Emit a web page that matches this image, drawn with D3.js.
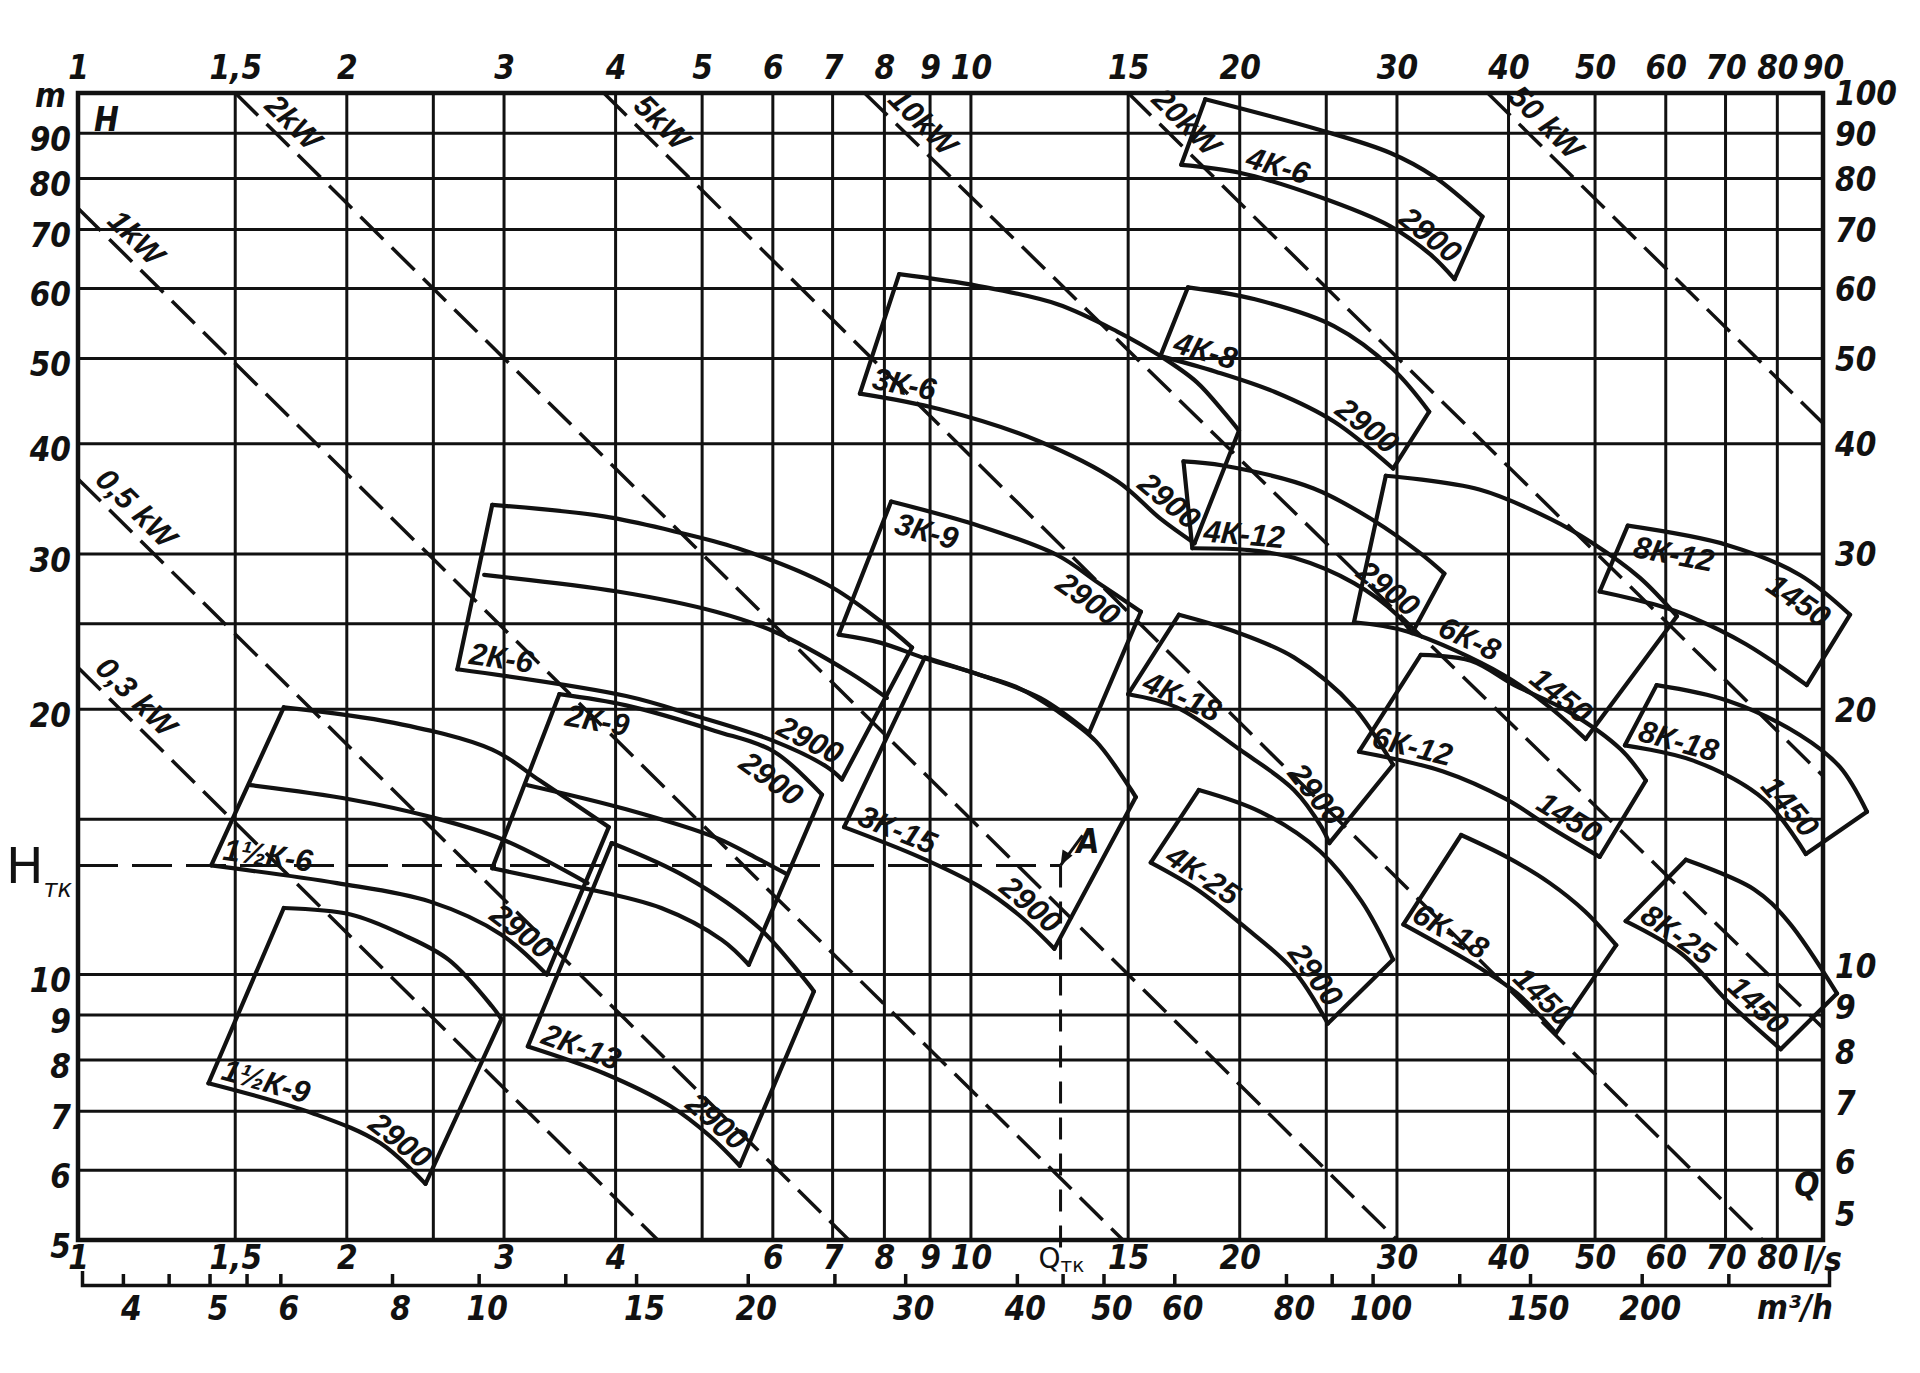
<!DOCTYPE html>
<html><head><meta charset="utf-8">
<script src="https://cdn.jsdelivr.net/npm/d3@7"></script>
<style>
body{margin:0;background:#fff;}
svg{display:block;}
.ax{font-family:"Liberation Sans Narrow","DejaVu Sans Condensed","Liberation Sans",sans-serif;font-style:italic;font-weight:bold;font-size:33px;fill:#111;}
.lbl{font-family:"Liberation Sans","DejaVu Sans",sans-serif;font-style:italic;font-weight:bold;font-size:31px;fill:#111;}
.plain{font-family:"DejaVu Sans","Liberation Sans",sans-serif;fill:#111;}
</style></head><body>
<svg id="c" width="1920" height="1373"></svg>
<script>
// ---------- data ----------
const qGrid = [1,1.5,2,2.5,3,4,5,6,7,8,9,10,15,20,25,30,40,50,60,70,80,90];
const hGrid = [5,6,7,8,9,10,15,20,25,30,40,50,60,70,80,90,100];
const topQLabels = [1,1.5,2,3,4,5,6,7,8,9,10,15,20,30,40,50,60,70,80,90];
const bottomQLabels = [1,1.5,2,3,4,6,7,8,9,10,15,20,30,40,50,60,70,80];
const leftHLabels = [90,80,70,60,50,40,30,20,10,9,8,7,6,5];
const rightHLabels = [100,90,80,70,60,50,40,30,20,10,9,8,7,6,5];
const m3hTicks = [4,4.5,5,5.5,6,8,10,12.5,15,20,25,30,40,45,50,60,80,90,100,125,150,200,250];
const m3hLabels = [4,5,6,8,10,15,20,30,40,50,60,80,100,150,200];

const powerLabels = ["0,3 kW","0,5 kW","1kW","2kW","5kW","10kW","20kW","50 kW"];
const powerFrom = [[1,22.3],[1,36.5],[1,74],[1.5,100],[3.88,100],[7.6,100],[15.0,100],[37.9,100]];
const powerTo   = [[4.46,5],[7.3,5],[14.8,5],[30,5],[77,5],[90,8.7],[90,16.8],[90,42.2]];

const pumpNames  = ["1½К-6","1½К-9","2К-6","2К-9","2К-13","3К-6","3К-9","3К-15","4К-6","4К-8","4К-12","4К-18","4К-25","6К-8","6К-12","6К-18","8К-12","8К-18","8К-25"];
const pumpSpeeds = ["2900","2900","2900","2900","2900","2900","2900","2900","2900","2900","2900","2900","2900","1450","1450","1450","1450","1450","1450"];
const pumpTop = [
 [[1.70,20.1],[2.26,19.3],[2.91,18.0],[3.29,16.6],[3.93,14.7]],
 [[1.70,11.9],[2.02,11.7],[2.31,11.1],[2.60,10.4],[2.91,9.2],[2.98,8.9]],
 [[2.91,34.1],[3.88,33.1],[4.61,31.9],[5.48,30.45],[6.90,27.7],[7.91,25.2],[8.59,23.5]],
 [[3.46,20.8],[4.11,20.2],[5.17,18.9],[6.02,17.9],[6.81,16.0]],
 [[3.96,14.1],[4.80,12.9],[5.79,11.3],[6.67,9.57]],
 [[8.31,62.3],[10.2,60.4],[12.5,57.6],[14.6,53.6],[16.3,50.3],[17.9,47.0],[19.25,43.3],[19.96,41.4]],
 [[8.14,34.4],[10.2,32.3],[12.5,29.9],[13.9,27.8],[15.5,25.8]],
 [[8.88,22.9],[10.2,21.9],[11.3,21.15],[12.5,19.9],[13.8,18.4],[15.0,16.4],[15.3,15.9]],
 [[18.3,98.4],[24.6,90.8],[29.5,85.5],[33.0,80.4],[37.4,72.4]],
 [[17.5,60.2],[20.8,58.35],[25.5,54.4],[29.7,48.6],[32.6,43.5]],
 [[17.3,38.2],[19.15,37.8],[24.2,35.6],[28.3,32.7],[31.8,30.1],[33.9,28.5]],
 [[17.1,25.6],[19.75,24.5],[23.0,22.9],[26.85,20.1],[29.7,17.3]],
 [[18.0,16.2],[21.1,15.3],[24.6,13.8],[27.4,12.1],[29.7,10.4]],
 [[29.15,36.8],[37.1,35.5],[44.5,32.9],[49.7,30.85],[56.1,28.2],[61.75,25.5]],
 [[31.9,23.05],[36.3,22.7],[40.6,21.3],[46.6,19.9],[53.45,18.0],[57.0,16.6]],
 [[35.4,14.4],[39.8,13.6],[44.5,12.7],[48.7,11.8],[52.8,10.8]],
 [[54.4,32.3],[70.4,30.7],[84.8,28.4],[96.5,25.6]],
 [[58.6,21.3],[70.4,20.45],[84.8,18.7],[94.0,17.2],[100.8,15.3]],
 [[63.2,13.5],[75.3,12.5],[82.2,11.5],[93.3,9.52]]
];
const pumpMid = [
 [[1.56,16.4],[2.02,15.8],[2.48,15.1],[2.98,14.25],[3.72,12.7]],
 null,
 [[2.85,28.4],[4.02,27.2],[5.18,25.8],[6.02,24.5],[7.32,22.0],[8.05,20.6]],
 [[3.19,16.4],[4.11,15.4],[5.18,14.3],[5.80,13.5],[6.22,13.0]],
 null,null,null,null,null,null,null,null,null,null,null,null,null,null,null
];
const pumpBottom = [
 [[1.41,13.3],[1.95,12.7],[2.48,12.1],[2.98,11.1],[3.35,10.0]],
 [[1.40,7.53],[1.84,6.95],[2.18,6.44],[2.45,5.79]],
 [[2.66,22.2],[4.11,20.7],[4.88,19.7],[6.02,18.4],[6.90,17.2],[7.17,16.65]],
 [[2.91,13.2],[3.60,12.6],[4.50,11.9],[5.26,10.95],[5.64,10.26]],
 [[3.19,8.29],[3.88,7.73],[4.61,7.09],[5.10,6.56],[5.51,6.07]],
 [[7.51,45.6],[9.21,43.8],[11.9,40.3],[14.6,36.25],[16.3,32.9],[17.8,30.85]],
 [[7.11,24.3],[7.91,23.8],[8.93,22.8],[10.2,21.9],[11.95,20.6],[13.56,18.8]],
 [[7.21,14.7],[8.75,13.6],[10.2,12.6],[11.3,11.7],[12.4,10.7]],
 [[17.2,82.9],[20.0,81.2],[24.5,76.3],[29.5,70.6],[32.7,65.6],[34.8,61.5]],
 [[16.3,50.3],[18.8,48.3],[21.9,45.8],[25.5,42.4],[29.7,37.5]],
 [[17.7,30.45],[20.5,30.3],[23.0,29.7],[26.85,27.8],[30.0,25.6],[31.2,24.4]],
 [[15.0,20.8],[17.0,20.1],[20.0,18.0],[23.0,16.2],[24.7,14.7],[25.2,14.1]],
 [[15.9,13.4],[17.9,12.5],[20.1,11.4],[23.0,10.1],[25.1,8.8]],
 [[26.85,25.1],[30.8,24.5],[39.4,21.9],[44.5,20.1],[48.8,18.5]],
 [[27.2,17.9],[33.8,17.0],[39.8,15.8],[44.5,14.7],[50.6,13.6]],
 [[30.5,11.4],[37.0,10.2],[40.9,9.52],[45.2,8.58]],
 [[50.6,27.2],[58.6,26.25],[64.3,25.4],[73.8,23.7],[86.3,21.3]],
 [[54.0,18.2],[64.3,17.5],[77.3,15.8],[86.1,13.7]],
 [[54.1,11.5],[62.5,10.56],[70.8,9.27],[80.7,8.23]]
];
const pointA = [12.6, 13.3];   // Q_тк, H_тк

// ---------- layout (not data) ----------
const labelsUnderTop = new Set(["2К-9","3К-9","8К-12"]);
const nameStart = {"4К-6": 62, "6К-8": 82, "6К-18": 4};
const speedEnd = {"6К-18": 0};
const labelSize = {"6К-18": 28};

// ---------- drawing ----------
const W = 1920, H = 1373;
const svg = d3.select('#c');
svg.append('rect').attr('width', W).attr('height', H).attr('fill', '#fff');
const ink = '#111';
const x = d3.scaleLog().domain([1, 90]).range([78, 1823]);
const y = d3.scaleLog().domain([5, 100]).range([1240, 93]);
const fmt = d => String(d).replace('.', ',');

// grid
const grid = svg.append('g').attr('stroke', ink).attr('stroke-width', 3);
qGrid.forEach(q => grid.append('line').attr('x1', x(q)).attr('x2', x(q)).attr('y1', y(100)).attr('y2', y(5)));
hGrid.forEach(h => grid.append('line').attr('x1', x(1)).attr('x2', x(90)).attr('y1', y(h)).attr('y2', y(h)));
svg.append('rect').attr('x', x(1)).attr('y', y(100)).attr('width', x(90) - x(1)).attr('height', y(5) - y(100))
  .attr('fill', 'none').attr('stroke', ink).attr('stroke-width', 4.5);

function styleAxis(g) {
  g.attr('font-family', null).attr('font-size', null);
  g.select('.domain').remove();
  g.selectAll('text').attr('class', 'ax').attr('fill', null);
}
// top Q labels
svg.append('g').attr('transform', `translate(0,${y(100)})`)
  .call(d3.axisTop(x).tickValues(topQLabels).tickFormat(fmt).tickSize(0).tickPadding(14)).call(styleAxis);
// left H labels
svg.append('g').attr('transform', `translate(${x(1) - 4},0)`)
  .call(d3.axisLeft(y).tickValues(leftHLabels).tickFormat(fmt).tickSize(0).tickPadding(3)).call(styleAxis)
  .selectAll('text').attr('dy', '0.52em');
svg.append('text').attr('class', 'ax').attr('font-size', 28).attr('x', 66).attr('y', y(100) + 14)
  .attr('text-anchor', 'end').text('m');
// right H labels
svg.append('g').attr('transform', `translate(${x(90) + 8},0)`)
  .call(d3.axisRight(y).tickValues(rightHLabels).tickFormat(fmt).tickSize(0).tickPadding(4)).call(styleAxis)
  .selectAll('text').attr('dy', d => d === 5 ? '-0.45em' : (d <= 10 ? '0.1em' : '0.36em'));
// bottom l/s labels
svg.append('g').attr('transform', `translate(0,${y(5)})`)
  .call(d3.axisBottom(x).tickValues(bottomQLabels).tickFormat(fmt).tickSize(0).tickPadding(6)).call(styleAxis);
svg.append('text').attr('class', 'ax').attr('x', x(80) + 26).attr('y', y(5) + 31).text('l/s');

// m3/h scale
const xm = d3.scaleLog().domain([3.6, 324]).range([x(1) + 4, x(90) + 6]);
const yAxM = 1285;
const gm = svg.append('g').attr('transform', `translate(0,${yAxM})`)
  .call(d3.axisTop(xm).tickValues(m3hTicks).tickFormat('').tickSize(11).tickSizeOuter(14));
gm.attr('font-family', null).attr('font-size', null);
gm.selectAll('path,line').attr('stroke', ink).attr('stroke-width', 3.5);
svg.append('g').attr('transform', `translate(8,${yAxM})`)
  .call(d3.axisBottom(xm).tickValues(m3hLabels).tickFormat(fmt).tickSize(0).tickPadding(12)).call(styleAxis);
svg.append('text').attr('class', 'ax').attr('x', x(90) + 10).attr('y', yAxM + 34).attr('text-anchor', 'end')
  .text('m³/h');

// inner letters
svg.append('text').attr('class', 'ax').attr('x', x(1) + 16).attr('y', y(100) + 38).attr('font-size', 30).text('H');
svg.append('text').attr('class', 'ax').attr('x', x(80) + 17).attr('y', y(5) - 44).attr('font-size', 28)
  .attr('font-weight', 'normal').text('Q');

// power lines (dashed)
const gp = svg.append('g');
powerLabels.forEach((lab, i) => {
  const p0 = [x(powerFrom[i][0]), y(powerFrom[i][1])];
  const p1 = [x(powerTo[i][0]), y(powerTo[i][1])];
  gp.append('line').attr('x1', p0[0]).attr('y1', p0[1]).attr('x2', p1[0]).attr('y2', p1[1])
    .attr('stroke', ink).attr('stroke-width', 3.5).attr('stroke-dasharray', '32,12');
  const dx = p1[0] - p0[0], dy = p1[1] - p0[1], len = Math.hypot(dx, dy);
  const ang = Math.atan2(dy, dx) * 180 / Math.PI;
  const s = 62;
  const cx = p0[0] + dx / len * s, cy = p0[1] + dy / len * s;
  gp.append('text').attr('class', 'lbl').attr('font-size', 30)
    .attr('transform', `translate(${cx},${cy}) rotate(${ang})`)
    .attr('x', 0).attr('y', -20).attr('text-anchor', 'middle').attr('dominant-baseline', 'central').text(lab);
});

// pump fields
const curve = d3.line().x(d => x(d[0])).y(d => y(d[1])).curve(d3.curveCatmullRom.alpha(0.5));
const straight = d3.line().x(d => x(d[0])).y(d => y(d[1]));
const gf = svg.append('g').attr('fill', 'none').attr('stroke', ink).attr('stroke-width', 4.2)
  .attr('stroke-linejoin', 'round').attr('stroke-linecap', 'round');
const gl = svg.append('g');
pumpNames.forEach((name, i) => {
  const top = pumpTop[i], bot = pumpBottom[i], mid = pumpMid[i];
  const tp = gf.append('path').attr('d', curve(top));
  if (mid) gf.append('path').attr('d', curve(mid));
  const bp = gf.append('path').attr('d', curve(bot));
  gf.append('path').attr('d', straight([top[0], bot[0]]));
  gf.append('path').attr('d', straight([top[top.length - 1], bot[bot.length - 1]]));
  const under = labelsUnderTop.has(name);
  const node = (under ? tp : bp).node(), L = node.getTotalLength();
  const dyText = under ? 30 : -7;
  const fs = labelSize[name] || 31;
  // name label near the left end
  const s0 = nameStart[name] !== undefined ? nameStart[name] : 10;
  const t1 = gl.append('text').attr('class', 'lbl').attr('font-size', fs).text(name);
  const w1 = t1.node().getComputedTextLength();
  const a0 = node.getPointAtLength(s0), a1 = node.getPointAtLength(Math.min(L, s0 + w1));
  const ang1 = Math.atan2(a1.y - a0.y, a1.x - a0.x) * 180 / Math.PI;
  t1.attr('transform', `translate(${a0.x},${a0.y}) rotate(${ang1})`).attr('x', 0).attr('y', dyText);
  // speed label near the right end
  const t2 = gl.append('text').attr('class', 'lbl').attr('font-size', fs).attr('text-anchor', 'end').text(pumpSpeeds[i]);
  const w2 = t2.node().getComputedTextLength();
  const e = speedEnd[name] !== undefined ? speedEnd[name] : (under ? 16 : 12);
  const b1 = node.getPointAtLength(Math.max(0, L - e)), b0 = node.getPointAtLength(Math.max(0, L - e - w2));
  const ang2 = Math.atan2(b1.y - b0.y, b1.x - b0.x) * 180 / Math.PI;
  t2.attr('transform', `translate(${b1.x},${b1.y}) rotate(${ang2})`).attr('x', 0).attr('y', dyText);
});

// operating point A with H_тк / Q_тк
const ax = x(pointA[0]), ay = y(pointA[1]);
svg.append('line').attr('x1', x(1)).attr('x2', ax).attr('y1', ay).attr('y2', ay)
  .attr('stroke', ink).attr('stroke-width', 3).attr('stroke-dasharray', '40,14');
svg.append('line').attr('x1', ax).attr('x2', ax).attr('y1', ay).attr('y2', y(5) + 12)
  .attr('stroke', ink).attr('stroke-width', 3).attr('stroke-dasharray', '22,14');
svg.append('path').attr('d', `M${ax + 22},${ay - 30} L${ax},${ay}`).attr('stroke', ink).attr('stroke-width', 3);
svg.append('path').attr('d', `M${ax},${ay} l2,-16 l10,6 z`).attr('fill', ink);
svg.append('text').attr('class', 'ax').attr('font-weight', 'normal').attr('x', ax + 16).attr('y', ay - 12).text('A');
const htk = svg.append('text').attr('class', 'plain').attr('x', 6).attr('y', ay + 18).attr('font-size', 50).text('H');
htk.append('tspan').attr('font-size', 24).attr('font-style', 'italic').attr('dy', 14).text('тк');
const qtk = svg.append('text').attr('class', 'plain').attr('x', ax - 22).attr('y', y(5) + 28).attr('font-size', 28).text('Q');
qtk.append('tspan').attr('font-size', 20).attr('dy', 4).text('тк');
</script>
</body></html>
